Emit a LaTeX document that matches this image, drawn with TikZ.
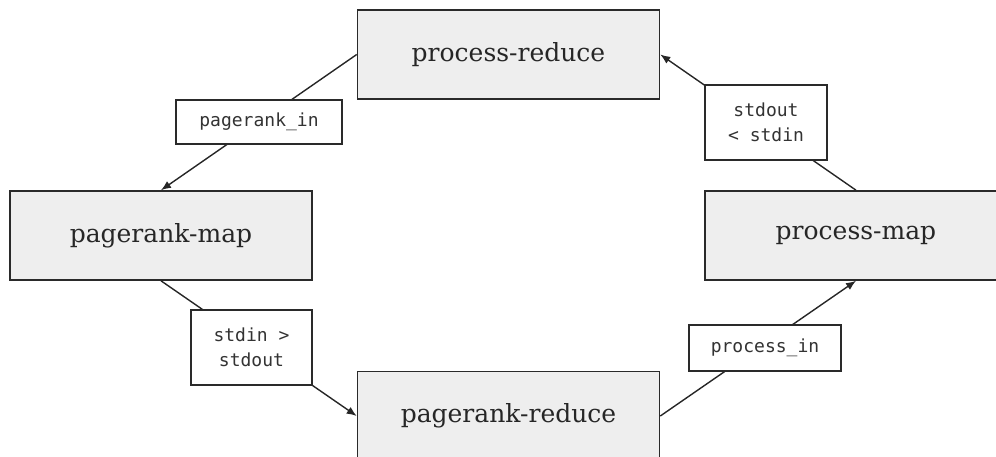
\documentclass[tikz,border=0pt]{standalone}
\usepackage{fontspec}
\setmainfont{DejaVu Serif}
\setmonofont{DejaVu Sans Mono}
\usetikzlibrary{arrows.meta}
\definecolor{boxfill}{HTML}{EEEEEE}
\definecolor{edgecol}{HTML}{2A2A2A}
\tikzset{
 proc/.style={draw=edgecol, line width=1.6pt, fill=boxfill, minimum width=302pt, minimum height=89pt, inner sep=0pt, text=black!85, font=\fontsize{25}{30}\selectfont},
 lbl/.style={draw=edgecol, line width=1.6pt, fill=white, inner sep=0pt, align=center, text=black!80, font=\ttfamily\fontsize{18}{25}\selectfont},
 conn/.style={line width=1.4pt, draw=black!85},
 arr/.style={conn, -{Latex[length=10pt,width=8pt]}}
}
\begin{document}
\begin{tikzpicture}[x=1pt,y=-1pt]
\clip (0,0) rectangle (996,457);
\node[proc] (pr) at (508.5,54.5) {process-reduce};
\node[proc] (pm) at (161,235.5) {pagerank-map};
\node[proc] (prr) at (508.5,416) {pagerank-reduce};
\node[proc] (psm) at (856,235.5) {process-map};
\draw[arr] (pr.west) -- (pm.north);
\draw[arr] (pm.south) -- (prr.west);
\draw[arr] (prr.east) -- (psm.south);
\draw[arr] (psm.north) -- (pr.east);
\node[lbl, minimum width=166pt, minimum height=44pt] (l1) at (259,122) {pagerank\_in};
\node[lbl, minimum width=121pt, minimum height=75pt] (l2) at (251.5,347.5) {stdin >\\stdout};
\node[lbl, minimum width=152pt, minimum height=46pt] (l3) at (765,348) {process\_in};
\node[lbl, minimum width=122pt, minimum height=75pt] (l4) at (766,122.5) {stdout\\< stdin};
\end{tikzpicture}
\end{document}
